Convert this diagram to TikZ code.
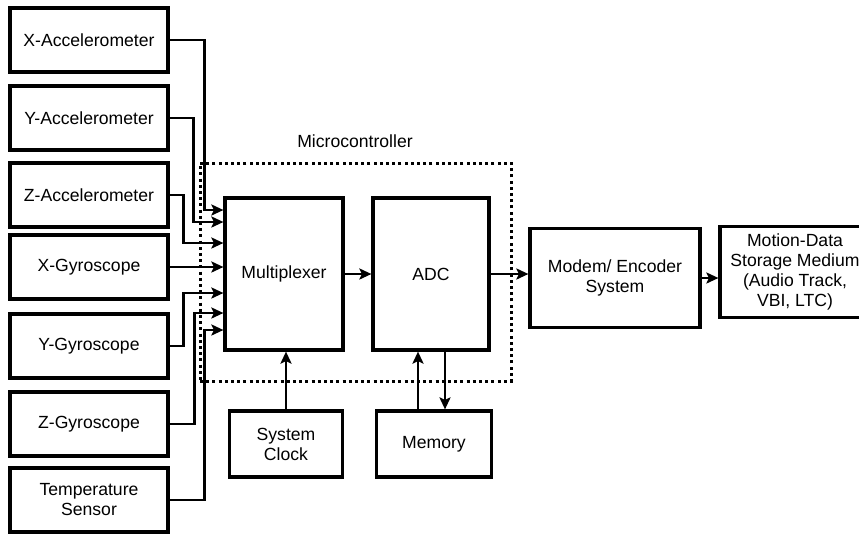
\documentclass[tikz,border=0pt]{standalone}
\usepackage{fontspec}
\setmainfont{Liberation Sans}
\usetikzlibrary{arrows.meta,positioning}
\tikzset{
    sensor/.style={draw, line width=3.2pt, minimum width=158pt, minimum height=64pt, align=center, inner sep=2pt},
    block/.style={draw, line width=3.2pt, align=center, inner sep=2pt},
    link/.style={draw, line width=2.4pt, -{Stealth[length=12pt,width=11pt,inset=2.5pt]}},
    chip/.style={draw, line width=3pt, dash pattern=on 3pt off 3.2pt, minimum width=311pt, minimum height=218pt}
}
\begin{document}
\begin{tikzpicture}[x=1pt, y=-1pt, font=\fontsize{17.6}{20}\selectfont]
    \useasboundingbox (0,0) rectangle (859,539);
    % Microcontroller
    \node[chip] (mcu) at (355.5,272) {};
    \node (mcutext) at (355,141) {Microcontroller};

    % Nodes
    \node[sensor] (xacc) at (89,40) {X-Accelerometer};
    \node[sensor] (yacc) at (89,118) {Y-Accelerometer};
    \node[sensor] (zacc) at (89,195) {Z-Accelerometer};
    \node[sensor] (xgyro) at (89,267) {X-Gyroscope};
    \node[sensor] (ygyro) at (89,346) {Y-Gyroscope};
    \node[sensor] (zgyro) at (89,424) {Z-Gyroscope};
    \node[sensor] (temp) at (89,500) {Temperature\\Sensor};

    \node[block, minimum width=118pt, minimum height=152pt] (mux) at (284,274) {Multiplexer};
    \node[block, minimum width=116pt, minimum height=152pt] (adc) at (431,274) {ADC};
    \node[block, minimum width=170pt, minimum height=99pt] (modem) at (615,278) {Modem/ Encoder\\System};
    \node[block, minimum width=150pt, minimum height=91pt] (storage) at (795,272) {Motion-Data\\Storage Medium\\(Audio Track,\\VBI, LTC)};
    \node[block, minimum width=113pt, minimum height=66pt] (clock) at (286,444) {System\\Clock};
    \node[block, minimum width=115pt, minimum height=66pt] (memory) at (434,444) {Memory};

    % edges
    \draw[link] (xacc.east) -- ++(35,0) |- ([yshift=64pt]mux.west);
    \draw[link] (yacc.east) -- ++(24,0) |- ([yshift=52pt]mux.west);
    \draw[link] (zacc.east) -- ++(14,0) |- ([yshift=31pt]mux.west);
    \draw[link] (xgyro.east) -- (xgyro.east -| mux.west);
    \draw[link] (ygyro.east) -- ++(14,0) |- ([yshift=-19pt]mux.west);
    \draw[link] (zgyro.east) -- ++(25,0) |- ([yshift=-39pt]mux.west);
    \draw[link] (temp.east) -- ++(35,0) |- ([yshift=-56pt]mux.west);
    \draw[link] (mux) -- (adc);
    \draw[link] (adc.east) -- (adc.east -| modem.west);
    \draw[link] (modem.east) -- (modem.east -| storage.west);
    \draw[link] (clock.north) -- (clock.north |- mux.south);
    \draw[link] ([xshift=-16pt]memory.north) -- ([xshift=-16pt]memory.north |- adc.south);
    \draw[link] ([xshift=14pt]adc.south) -- ([xshift=14pt]adc.south |- memory.north);
\end{tikzpicture}
\end{document}
